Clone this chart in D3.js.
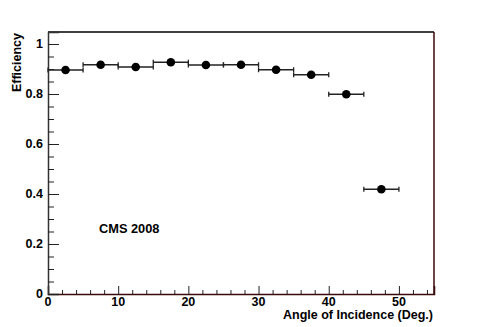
<!DOCTYPE html>
<html>
<head>
<meta charset="utf-8">
<script src="https://cdn.jsdelivr.net/npm/d3@7"></script>
<style>
  body { margin: 0; background: #fff; }
  text { font-family: "Liberation Sans", Arial, sans-serif; font-weight: bold; }
</style>
</head>
<body>
<script>
// bin centres (deg), half width and measured efficiency
const angles = [2.5, 7.5, 12.5, 17.5, 22.5, 27.5, 32.5, 37.5, 42.5, 47.5];
const halfWidth = [2.5, 2.5, 2.5, 2.5, 2.5, 2.5, 2.5, 2.5, 2.5, 2.5];
const efficiency = [0.896, 0.917, 0.908, 0.927, 0.916, 0.917, 0.897, 0.877, 0.799, 0.419];
const xTicks = [0, 10, 20, 30, 40, 50];
const yTicks = [0, 0.2, 0.4, 0.6, 0.8, 1];

const w = 483,
      h = 327,
      padLeft = 48,
      padRight = 434,
      padTop = 32,
      padBottom = 294;

const data = angles.map((a, i) => ({x: a, ex: halfWidth[i], y: efficiency[i]}));

const svg = d3.select('body')
            .append('svg')
            .attr('width', w)
            .attr('height', h);

const xScale = d3.scaleLinear()
                .domain([0, 55])
                .range([padLeft, padRight]);

const yScale = d3.scaleLinear()
                .domain([0, 1.048])
                .range([padBottom, padTop]);

// frame
svg.append('line').attr('x1', padLeft).attr('x2', padRight).attr('y1', padTop).attr('y2', padTop)
    .attr('stroke', '#000').attr('stroke-width', 1.5);
svg.append('line').attr('x1', padRight).attr('x2', padRight).attr('y1', padTop).attr('y2', padBottom)
    .attr('stroke', '#3a0a0a').attr('stroke-width', 1.5);

// x axis: ticks pointing up
const xAxis = d3.axisTop(xScale)
                .tickValues(xTicks)
                .tickSize(8)
                .tickFormat('');
const xMinor = d3.axisTop(xScale)
                .tickValues(d3.range(0, 55.1, 2).filter(v => v % 10 !== 0))
                .tickSize(4)
                .tickFormat('');

const gx = svg.append('g')
    .attr('transform', 'translate(0,' + padBottom + ')')
    .call(xAxis);
svg.append('g')
    .attr('transform', 'translate(0,' + padBottom + ')')
    .call(xMinor)
    .select('.domain').remove();
gx.select('.domain').attr('stroke', '#3a0a0a').attr('stroke-width', 1.5);

svg.append('g').selectAll('text')
    .data(xTicks)
    .enter()
    .append('text')
    .attr('x', (d) => xScale(d))
    .attr('y', 306)
    .attr('text-anchor', 'middle')
    .attr('font-size', 12.5)
    .text((d) => d);

// y axis: ticks pointing right
const yAxis = d3.axisRight(yScale)
                .tickValues(yTicks)
                .tickSize(11)
                .tickFormat('');
const yMinor = d3.axisRight(yScale)
                .tickValues(d3.range(0, 1.04, 0.05).filter((v, i) => i % 4 !== 0))
                .tickSize(6)
                .tickFormat('');

const gy = svg.append('g')
    .attr('transform', 'translate(' + padLeft + ',0)')
    .call(yAxis);
svg.append('g')
    .attr('transform', 'translate(' + padLeft + ',0)')
    .call(yMinor)
    .select('.domain').remove();
gy.select('.domain').attr('stroke', '#333').attr('stroke-width', 1.5);
svg.selectAll('.tick line').attr('stroke', '#222').attr('stroke-width', 1);

svg.append('g').selectAll('text')
    .data(yTicks)
    .enter()
    .append('text')
    .attr('x', 43)
    .attr('y', (d) => yScale(d) + 4)
    .attr('text-anchor', 'end')
    .attr('font-size', 12.5)
    .text((d) => d);

// error bars
const eb = svg.append('g')
    .attr('stroke', '#222')
    .attr('stroke-width', 1.3);

eb.selectAll('line.bar')
    .data(data)
    .enter()
    .append('line')
    .attr('class', 'bar')
    .attr('x1', (d) => xScale(d.x - d.ex))
    .attr('x2', (d) => xScale(d.x + d.ex))
    .attr('y1', (d) => yScale(d.y))
    .attr('y2', (d) => yScale(d.y));

eb.selectAll('line.capl')
    .data(data)
    .enter()
    .append('line')
    .attr('class', 'capl')
    .attr('x1', (d) => xScale(d.x - d.ex))
    .attr('x2', (d) => xScale(d.x - d.ex))
    .attr('y1', (d) => yScale(d.y) - 2.5)
    .attr('y2', (d) => yScale(d.y) + 2.5);

eb.selectAll('line.capr')
    .data(data)
    .enter()
    .append('line')
    .attr('class', 'capr')
    .attr('x1', (d) => xScale(d.x + d.ex))
    .attr('x2', (d) => xScale(d.x + d.ex))
    .attr('y1', (d) => yScale(d.y) - 2.5)
    .attr('y2', (d) => yScale(d.y) + 2.5);

svg.selectAll('circle')
    .data(data)
    .enter()
    .append('circle')
    .attr('cx', (d) => xScale(d.x))
    .attr('cy', (d) => yScale(d.y))
    .attr('r', 4.3)
    .attr('fill', '#000');

// labels
svg.append('text')
    .attr('x', 433)
    .attr('y', 319)
    .attr('text-anchor', 'end')
    .attr('font-size', 12.5)
    .text('Angle of Incidence (Deg.)');

svg.append('text')
    .attr('transform', 'translate(21,33) rotate(-90)')
    .attr('text-anchor', 'end')
    .attr('font-size', 12.5)
    .text('Efficiency');

svg.append('text')
    .attr('x', 99)
    .attr('y', 233)
    .attr('font-size', 12.8)
    .text('CMS 2008');
</script>
</body>
</html>
